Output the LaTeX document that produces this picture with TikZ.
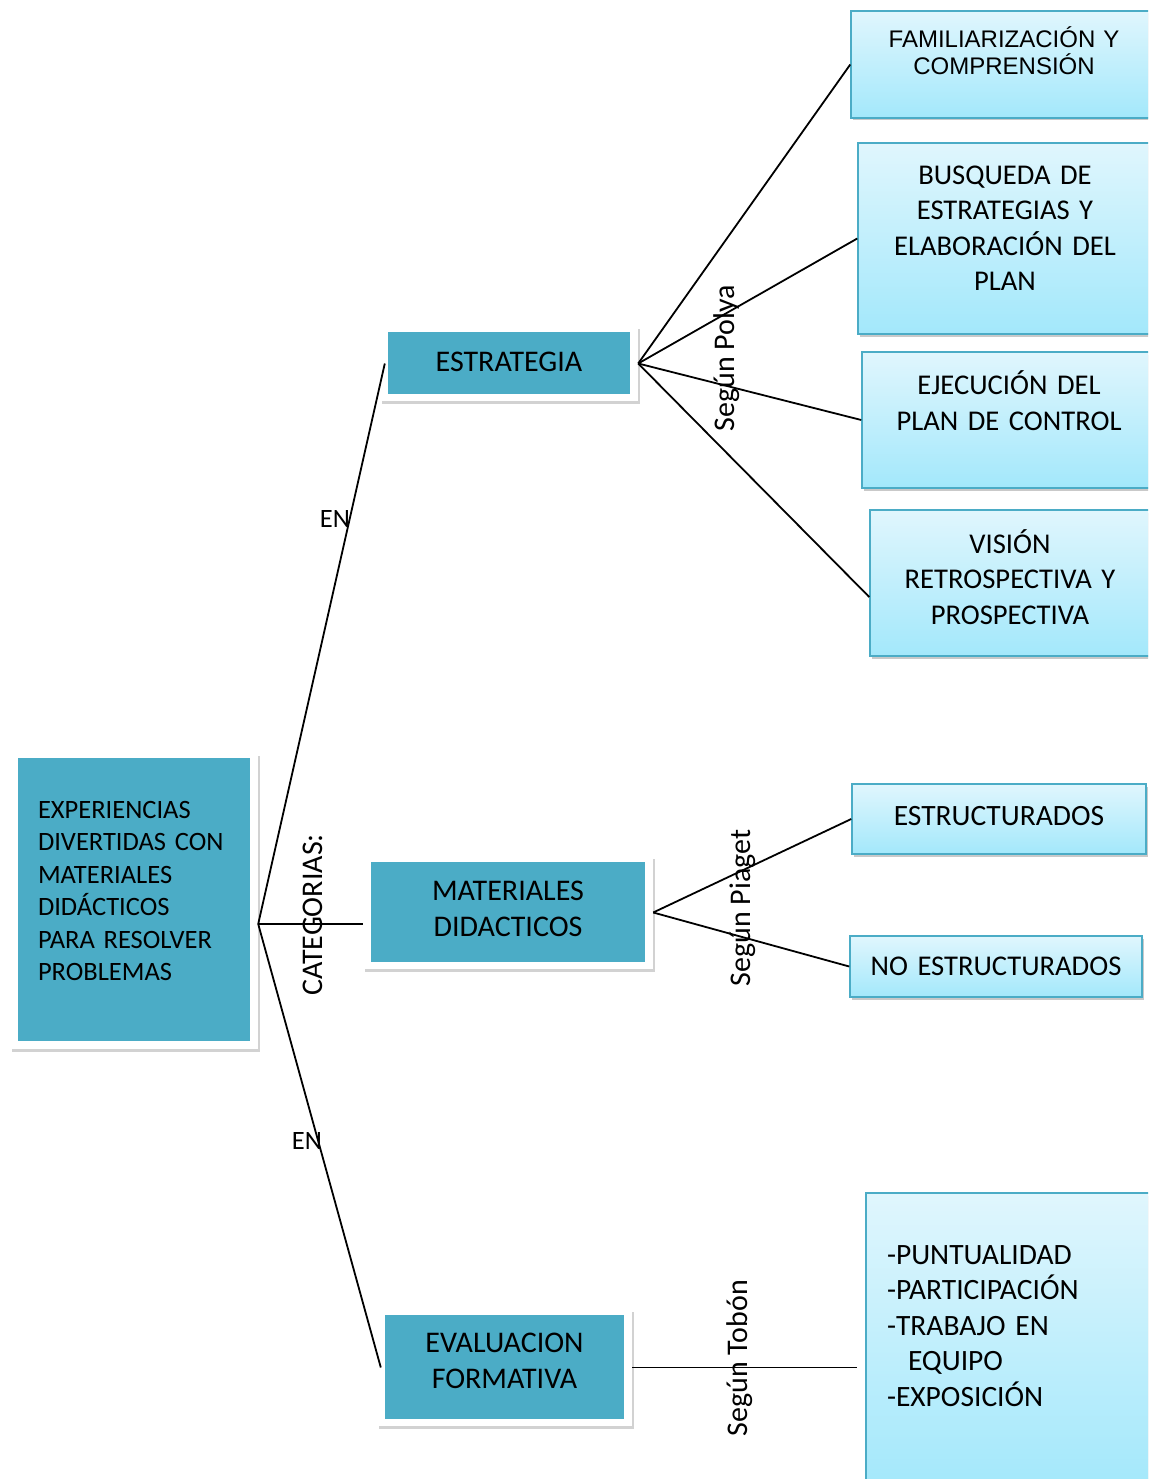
\documentclass[tikz,border=0pt]{standalone}
\usepackage{fontspec}
\setmainfont{Carlito}
\newfontfamily\arialf{Liberation Sans}
\usetikzlibrary{shadows}
\definecolor{teal1}{HTML}{4BACC6}
\definecolor{ltop}{HTML}{E0F6FD}
\definecolor{lbot}{HTML}{A3E8FB}
\definecolor{lborder}{HTML}{4BACC6}
\newcommand{\upby}[1]{\par\nointerlineskip\vbox to #1{}}
\begin{document}
\begin{tikzpicture}[x=1pt,y=-1pt,
  frame/.style={fill=white, inner sep=0pt,
    drop shadow={shadow xshift=2pt,shadow yshift=-3pt,opacity=0.25,fill=black!70}},
  tealbox/.style={fill=teal1, inner sep=0pt, align=center,
    font=\fontsize{30}{36}\selectfont},
  lightbox/.style={top color=ltop, bottom color=lbot, draw=lborder, line width=1.5pt,
    inner sep=0pt, align=center, font=\fontsize{28.6}{35.5}\selectfont,
    drop shadow={shadow xshift=1.5pt,shadow yshift=-2.5pt,opacity=0.3,fill=black!70}},
  link/.style={line width=1.8pt, black},
  lbl/.style={font=\fontsize{30}{32}\selectfont, inner sep=0pt}
]
\useasboundingbox (0,0) rectangle (1148,1479);
\clip (0,0) rectangle (1148,1479);

% root
\node[frame, minimum width=248pt, minimum height=296pt] (rootF) at (134,901) {};
\node[tealbox, minimum width=232pt, minimum height=283pt, text width=192pt, align=left,
  font=\fontsize{26.5}{32.4}\selectfont] (root) at (134,899.5)
  {EXPERIENCIAS\\DIVERTIDAS CON\\MATERIALES\\DIDÁCTICOS\\PARA RESOLVER\\PROBLEMAS\upby{17pt}};

% categories
\node[frame, minimum width=258pt, minimum height=75pt] (estrF) at (509,363.5) {};
\node[tealbox, minimum width=242pt, minimum height=62pt, text width=230pt] (estr) at (509,363) {ESTRATEGIA\upby{2pt}};

\node[frame, minimum width=290pt, minimum height=113pt] (matF) at (508,912.5) {};
\node[tealbox, minimum width=274pt, minimum height=100pt, text width=260pt] (mat) at (508,912) {MATERIALES\\DIDACTICOS\upby{6pt}};

\node[frame, minimum width=255pt, minimum height=117pt] (evalF) at (504.5,1367.5) {};
\node[tealbox, minimum width=239pt, minimum height=104pt, text width=230pt] (eval) at (504.5,1367) {EVALUACION\\FORMATIVA\upby{12pt}};

% right boxes
\node[lightbox, minimum width=306pt, minimum height=107pt, text width=280pt,
  font=\arialf\fontsize{24}{27}\selectfont] (fam) at (1004,64.5)
  {FAMILIARIZACIÓN Y\\COMPRENSIÓN\upby{28pt}};
\node[lightbox, minimum width=294pt, minimum height=191pt, text width=270pt] (busq) at (1005,238.5)
  {BUSQUEDA DE\\ESTRATEGIAS Y\\ELABORACIÓN DEL\\PLAN\upby{21pt}};
\node[lightbox, minimum width=294pt, minimum height=136pt, text width=270pt] (ejec) at (1009,420)
  {EJECUCIÓN DEL\\PLAN DE CONTROL\upby{39pt}};
\node[lightbox, minimum width=280pt, minimum height=146pt, text width=260pt] (vision) at (1010,583)
  {VISIÓN\\RETROSPECTIVA Y\\PROSPECTIVA\upby{12pt}};
\node[lightbox, minimum width=294pt, minimum height=70pt, text width=270pt,
  font=\fontsize{29.5}{35.5}\selectfont] (estruc) at (999,819)
  {ESTRUCTURADOS\upby{6pt}};
\node[lightbox, minimum width=292pt, minimum height=61pt, text width=280pt] (noestr) at (996,966.5)
  {NO ESTRUCTURADOS};
\node[lightbox, minimum width=302pt, minimum height=297pt, text width=260pt, align=left,
  font=\fontsize{29.5}{35.5}\selectfont] (tobon) at (1017,1341.5)
  {-PUNTUALIDAD\\-PARTICIPACIÓN\\-TRABAJO EN\\\hspace*{21pt}EQUIPO\\-EXPOSICIÓN\upby{31pt}};

% labels
\node[lbl, font=\fontsize{26.5}{32}\selectfont] (en1) at (335,519) {EN};
\node[lbl, font=\fontsize{26.5}{32}\selectfont] (en2) at (307,1141) {EN};
\node[lbl, rotate=90] (cat) at (313,915) {CATEGORIAS:};
\node[lbl, rotate=90] (polya) at (727,358) {Según Polya};
\node[lbl, rotate=90] (piaget) at (743,908) {Según Piaget};
\node[lbl, rotate=90] (tobonl) at (740,1358) {Según Tobón};

% connectors
\coordinate (hub) at ([yshift=-23pt]rootF.east);
\draw[link] (hub) -- ([xshift=5pt]estrF.west);
\draw[link] (hub) -- (hub -| matF.west);
\draw[link] (hub) -- ([xshift=4pt]evalF.west);

\draw[link] (estrF.east) -- (fam.west);
\draw[link] (estrF.east) -- (busq.west);
\draw[link] (estrF.east) -- (ejec.west);
\draw[link] (estrF.east) -- ([yshift=-14pt]vision.west);

\draw[link] (matF.east) -- (estruc.west);
\draw[link] (matF.east) -- (noestr.west);

\draw[link] (evalF.east) -- ([xshift=-8pt]evalF.east -| tobon.west);
\end{tikzpicture}
\end{document}
